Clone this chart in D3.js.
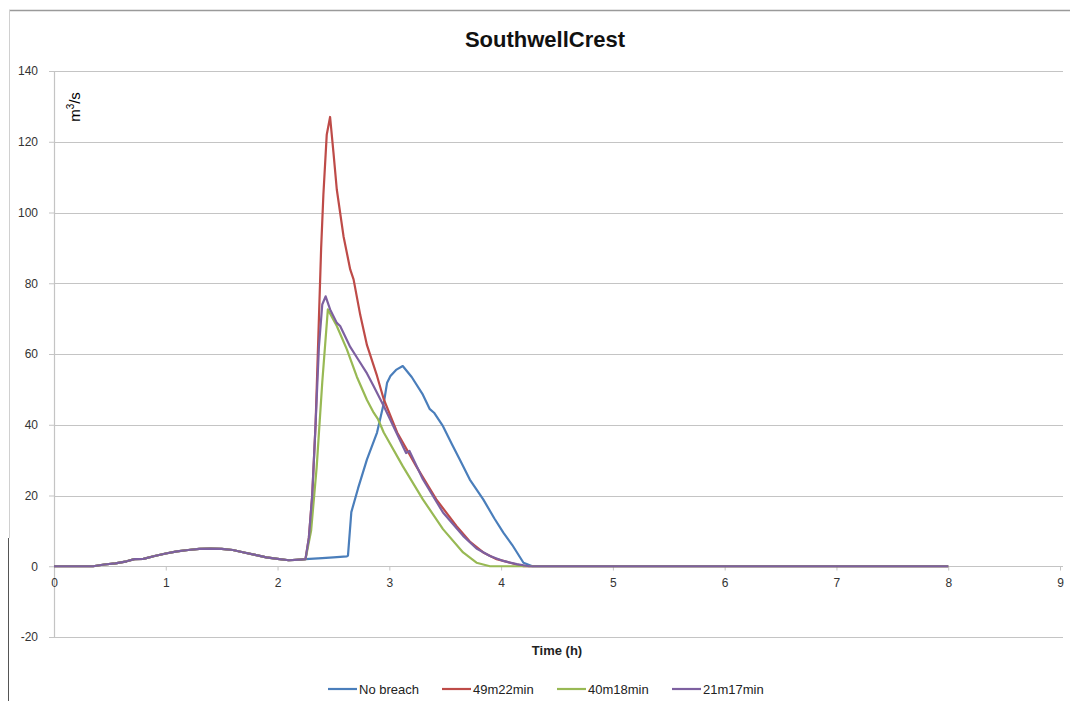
<!DOCTYPE html>
<html>
<head>
<meta charset="utf-8">
<script src="https://cdn.jsdelivr.net/npm/d3@7"></script>
<style>
  body { margin: 0; background: #fff; }
  svg { display: block; font-family: "Liberation Sans", Arial, sans-serif; }
</style>
</head>
<body>
<div id="vis"></div>
<script>
// hydrograph data, time in hours, flow in m3/s
var baseTime = [0, 0.35, 0.45, 0.55, 0.65, 0.72, 0.8, 0.9, 1.0, 1.1, 1.2, 1.3, 1.4, 1.5, 1.6, 1.7, 1.8, 1.9, 2.0, 2.1, 2.2];
var baseFlow = [0, 0, 0.5, 0.8, 1.4, 2.0, 2.1, 2.9, 3.6, 4.2, 4.6, 4.9, 5.0, 4.9, 4.6, 3.9, 3.2, 2.5, 2.1, 1.7, 1.9];

var noBreachTime = [2.25, 2.4, 2.5, 2.62, 2.63, 2.66, 2.72, 2.8, 2.89, 2.95, 2.98, 3.01, 3.06, 3.12, 3.2, 3.3, 3.36, 3.4, 3.48, 3.56, 3.63, 3.72, 3.84, 3.94, 4.02, 4.1, 4.2, 4.28, 8];
var noBreachFlow = [2.0, 2.3, 2.5, 2.8, 3.0, 15.3, 22, 30.2, 37.8, 46.0, 51.9, 53.8, 55.5, 56.6, 53.5, 48.5, 44.5, 43.4, 39.6, 34.5, 30.2, 24.5, 18.9, 13.5, 9.5, 6.0, 1.0, 0, 0];

var t49Time = [2.25, 2.28, 2.31, 2.34, 2.37, 2.39, 2.41, 2.44, 2.47, 2.5, 2.53, 2.59, 2.65, 2.68, 2.74, 2.8, 2.89, 2.95, 3.07, 3.24, 3.42, 3.6, 3.72, 3.84, 3.96, 4.08, 4.2, 8];
var t49Flow = [2.0, 8, 20, 40, 70, 90, 105, 122, 127, 117, 106.5, 93.3, 83.9, 81.1, 71.0, 62.5, 53.8, 47.2, 37.8, 28.3, 18.9, 11.4, 7.0, 3.9, 2.0, 1.0, 0, 0];

var t40Time = [2.25, 2.3, 2.35, 2.4, 2.45, 2.53, 2.62, 2.71, 2.8, 2.86, 2.9, 2.95, 3.12, 3.3, 3.48, 3.66, 3.78, 3.9, 8];
var t40Flow = [2.0, 10, 28, 52, 72.6, 67.9, 61.3, 53.5, 47.0, 43.4, 41.5, 37.8, 28.3, 18.9, 10.5, 3.9, 1.0, 0, 0];

var t21Time = [2.25, 2.28, 2.31, 2.34, 2.37, 2.4, 2.43, 2.47, 2.53, 2.56, 2.65, 2.71, 2.8, 2.86, 2.95, 3.12, 3.15, 3.18, 3.3, 3.48, 3.66, 3.78, 3.9, 4.02, 4.14, 4.25, 8];
var t21Flow = [2.0, 8, 20, 40, 62, 74, 76.3, 72.6, 68.8, 67.9, 62.0, 59.0, 54.5, 50.9, 45.3, 34.0, 32.0, 32.6, 24.6, 15.2, 8.6, 5.0, 2.9, 1.5, 0.6, 0, 0];

var seriesNames = ['No breach', '49m22min', '40m18min', '21m17min'];
var seriesColours = ['#4a7ebb', '#be4b48', '#98b954', '#7d60a0'];
var seriesTimes = [noBreachTime, t49Time, t40Time, t21Time];
var seriesFlows = [noBreachFlow, t49Flow, t40Flow, t21Flow];

var xTicks = [0, 1, 2, 3, 4, 5, 6, 7, 8, 9];
var yTicks = [-20, 0, 20, 40, 60, 80, 100, 120, 140];

var width = 1070;
var height = 701;
var plot = { left: 54, right: 1060, top: 71, bottom: 637 };

var svg = d3.select('#vis').append('svg')
  .attr('width', width)
  .attr('height', height);

// outer chart frame
svg.append('line').attr('x1', 9).attr('x2', width).attr('y1', 10.5).attr('y2', 10.5)
  .attr('stroke', '#9a9a9a').attr('stroke-width', 1.5);
svg.append('line').attr('x1', 9.5).attr('x2', 9.5).attr('y1', 10).attr('y2', 538)
  .attr('stroke', '#d0d0d0').attr('stroke-width', 1);
svg.append('line').attr('x1', 8.5).attr('x2', 8.5).attr('y1', 538).attr('y2', height)
  .attr('stroke', '#555').attr('stroke-width', 1);

var x = d3.scaleLinear().domain([0, 9]).range([plot.left, plot.right]);
var y = d3.scaleLinear().domain([-20, 140]).range([plot.bottom, plot.top]);

// horizontal gridlines
svg.append('g')
  .selectAll('line')
  .data(yTicks)
  .enter().append('line')
  .attr('x1', plot.left)
  .attr('x2', plot.right + 3)
  .attr('y1', function (d) { return Math.round(y(d)) + 0.5; })
  .attr('y2', function (d) { return Math.round(y(d)) + 0.5; })
  .attr('stroke', '#c4c4c4')
  .attr('stroke-width', 1.2);

// y axis, plain hyphen for negatives like the original
var yAxis = svg.append('g')
  .attr('transform', 'translate(' + plot.left + ',0)')
  .call(d3.axisLeft(y).tickValues(yTicks).tickSize(5).tickPadding(11)
    .tickFormat(function (d) { return String(d); }));
yAxis.select('.domain').attr('stroke', '#c4c4c4').attr('stroke-width', 1.2);
yAxis.selectAll('.tick line').attr('stroke', '#c4c4c4');
yAxis.selectAll('.tick text').attr('fill', '#333').style('font-size', '12px');

// x axis sits on the zero line
var xAxis = svg.append('g')
  .attr('transform', 'translate(0,' + (Math.round(y(0)) + 0.5) + ')')
  .call(d3.axisBottom(x).tickValues(xTicks).tickSize(4).tickPadding(8));
xAxis.select('.domain').remove();
xAxis.selectAll('.tick line').attr('stroke', '#c4c4c4');
xAxis.selectAll('.tick text').attr('fill', '#333').style('font-size', '12px');

// series lines
var line = d3.line()
  .x(function (d) { return x(d[0]); })
  .y(function (d) { return y(d[1]); });

seriesNames.forEach(function (name, i) {
  var times = baseTime.concat(seriesTimes[i]);
  var flows = baseFlow.concat(seriesFlows[i]);
  var pts = times.map(function (t, j) { return [t, flows[j]]; });
  svg.append('path')
    .datum(pts)
    .attr('fill', 'none')
    .attr('stroke', seriesColours[i])
    .attr('stroke-width', 2.2)
    .attr('stroke-linejoin', 'round')
    .attr('d', line);
});

// titles
svg.append('text')
  .attr('x', 545).attr('y', 47)
  .attr('text-anchor', 'middle')
  .style('font-size', '22px')
  .style('font-weight', 'bold')
  .attr('fill', '#111')
  .text('SouthwellCrest');

var yLabel = svg.append('text')
  .attr('transform', 'translate(80,107) rotate(-90)')
  .attr('text-anchor', 'middle')
  .style('font-size', '15px')
  .attr('fill', '#000');
yLabel.append('tspan').text('m');
yLabel.append('tspan').attr('dy', -6).style('font-size', '10px').text('3');
yLabel.append('tspan').attr('dy', 6).text('/s');

svg.append('text')
  .attr('x', 557).attr('y', 655)
  .attr('text-anchor', 'middle')
  .style('font-size', '13px')
  .style('font-weight', 'bold')
  .attr('fill', '#222')
  .text('Time (h)');

// legend
var legendX = [328, 442, 557, 672];
var legend = svg.append('g')
  .selectAll('g')
  .data(seriesNames)
  .enter().append('g')
  .attr('transform', function (d, i) { return 'translate(' + legendX[i] + ',689)'; });

legend.append('line')
  .attr('x1', 0).attr('x2', 29)
  .attr('stroke', function (d, i) { return seriesColours[i]; })
  .attr('stroke-width', 2.2);

legend.append('text')
  .attr('x', 31).attr('y', 4.5)
  .style('font-size', '13px')
  .attr('fill', '#222')
  .text(function (d) { return d; });
</script>
</body>
</html>
